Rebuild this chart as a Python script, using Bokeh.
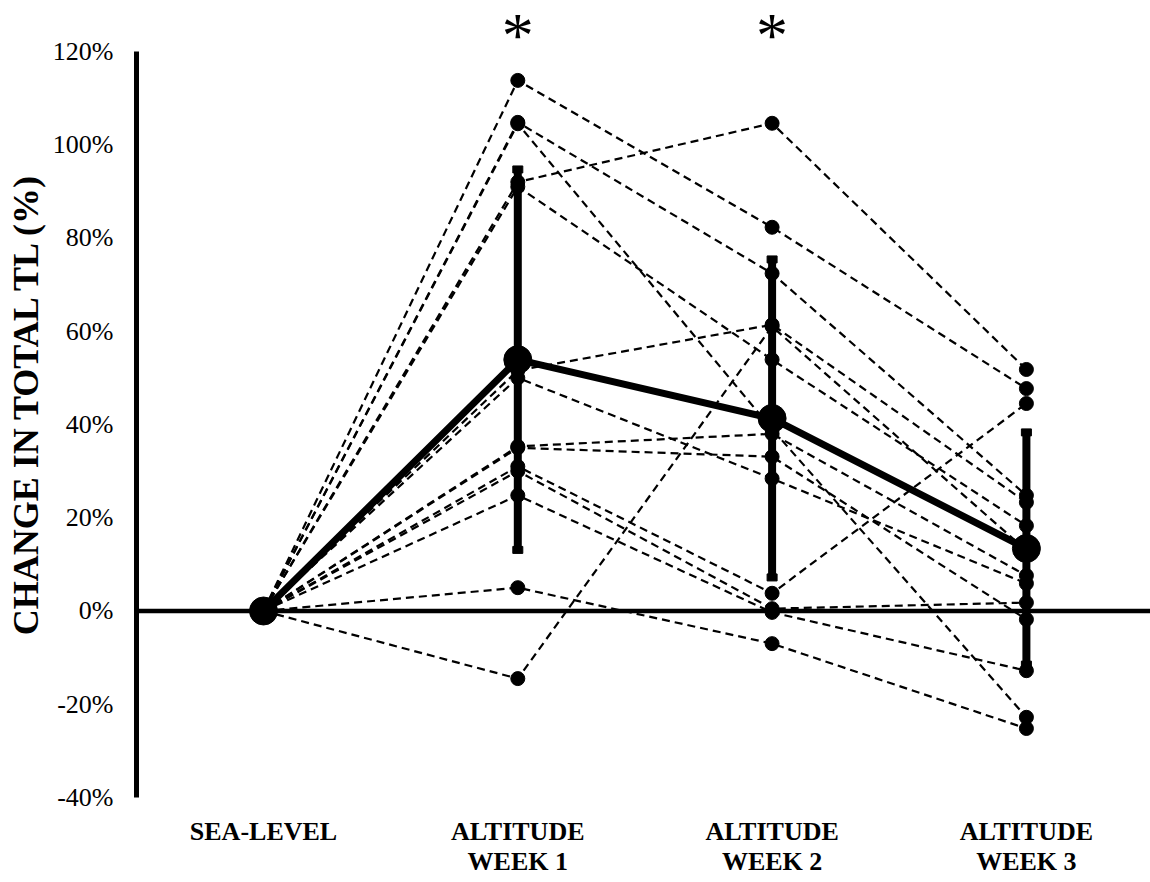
from bokeh.plotting import figure
from bokeh.models import FixedTicker, PrintfTickFormatter, Span
from bokeh.core.properties import value
from bokeh.embed import file_html
from bokeh.resources import INLINE

# ---- data -------------------------------------------------------------
categories = ["SEA-LEVEL", "ALTITUDE\nWEEK 1", "ALTITUDE\nWEEK 2", "ALTITUDE\nWEEK 3"]
y_ticks = [-40, -20, 0, 20, 40, 60, 80, 100, 120]

# individual subjects: % change in total TL at each time point
sea_level = [0.0] * 14
week1 = [113.8, 104.8, 104.5, 92.0, 91.0, 51.6, 50.0, 35.3, 35.0, 31.0, 30.0, 24.8, 5.0, -14.5]
week2 = [82.3, 72.4, 39.0, 104.6, 53.9, 61.4, 28.4, 38.0, 33.1, 3.8, 0.5, -0.3, -7.0, 61.0]
week3 = [47.7, 24.8, -22.8, 51.8, 18.3, 23.3, 5.9, 7.6, -1.8, 44.5, 1.8, -12.8, -25.2, 13.0]

# group mean and SD
mean_vals = [0.0, 53.9, 41.3, 13.4]
sd_vals = [0.0, 40.8, 34.1, 24.9]

# significance markers
sig_pos = [1, 2]
sig_text = ["*", "*"]
sig_level = 123.4

# ---- figure -----------------------------------------------------------
FONT = "Liberation Serif"
p = figure(frame_width=1014, frame_height=789,
           x_range=(-0.4994, 3.488), y_range=(-40, 129.22),
           output_backend="svg", toolbar_location=None,
           min_border_left=136, min_border_right=0, min_border_top=8, min_border_bottom=0)
p.outline_line_color = None
p.xgrid.visible = False
p.ygrid.visible = False
p.background_fill_color = "white"
p.border_fill_color = "white"

# zero line
p.add_layout(Span(location=0, dimension="width", line_color="black", line_width=4.5))

# individual subject lines
xs_pos = list(range(len(categories)))
subj_xs = [xs_pos for _ in week1]
subj_ys = [[a, b, c, d] for a, b, c, d in zip(sea_level, week1, week2, week3)]
p.multi_line(xs=subj_xs, ys=subj_ys, line_color="black", line_width=2.2, line_dash="8 5")

pt_x, pt_y = [], []
for i, series in enumerate([week1, week2, week3], start=1):
    pt_x += [i] * len(series)
    pt_y += series
p.scatter(x=pt_x, y=pt_y, size=14, color="black")

# error bars
eb_x = xs_pos[1:]
eb_lo = [m - s for m, s in zip(mean_vals[1:], sd_vals[1:])]
eb_hi = [m + s for m, s in zip(mean_vals[1:], sd_vals[1:])]
p.segment(x0=eb_x, y0=eb_lo, x1=eb_x, y1=eb_hi, line_color="black", line_width=8)
p.rect(x=eb_x + eb_x, y=eb_lo + eb_hi, width=10, height=7,
       width_units="screen", height_units="screen", color="black")

# mean line
p.line(x=xs_pos, y=mean_vals, line_color="black", line_width=7)
p.scatter(x=xs_pos, y=mean_vals, size=28, color="black")

# asterisks
p.text(x=sig_pos, y=[sig_level] * len(sig_pos), text=sig_text, text_align="center",
       text_baseline="alphabetic", text_font=value(FONT), text_font_size="64px",
       text_color="black")

# y axis
ya = p.yaxis[0]
ya.ticker = FixedTicker(ticks=y_ticks)
ya.formatter = PrintfTickFormatter(format="%d%%")
ya.bounds = (-40, 120)
ya.axis_line_width = 5
ya.major_tick_line_color = None
ya.minor_tick_line_color = None
ya.major_tick_out = 0
ya.major_tick_in = 0
ya.major_label_standoff = 23
ya.major_label_text_font = FONT
ya.major_label_text_font_size = "26px"
ya.major_label_text_color = "black"
ya.axis_label = "CHANGE IN TOTAL TL (%)"
ya.axis_label_text_font = FONT
ya.axis_label_text_font_style = "bold"
ya.axis_label_text_font_size = "36px"
ya.axis_label_text_color = "black"
ya.axis_label_standoff = 4

# x axis
xa = p.xaxis[0]
xa.ticker = FixedTicker(ticks=xs_pos)
xa.major_label_overrides = {i: c for i, c in zip(xs_pos, categories)}
xa.axis_line_color = None
xa.major_tick_line_color = None
xa.minor_tick_line_color = None
xa.major_tick_out = 0
xa.major_tick_in = 0
xa.major_label_standoff = 19
xa.major_label_text_font = FONT
xa.major_label_text_font_style = "bold"
xa.major_label_text_font_size = "26px"
xa.major_label_text_line_height = 1.05
xa.major_label_text_color = "black"

open("out.html", "w").write(file_html(p, INLINE))
